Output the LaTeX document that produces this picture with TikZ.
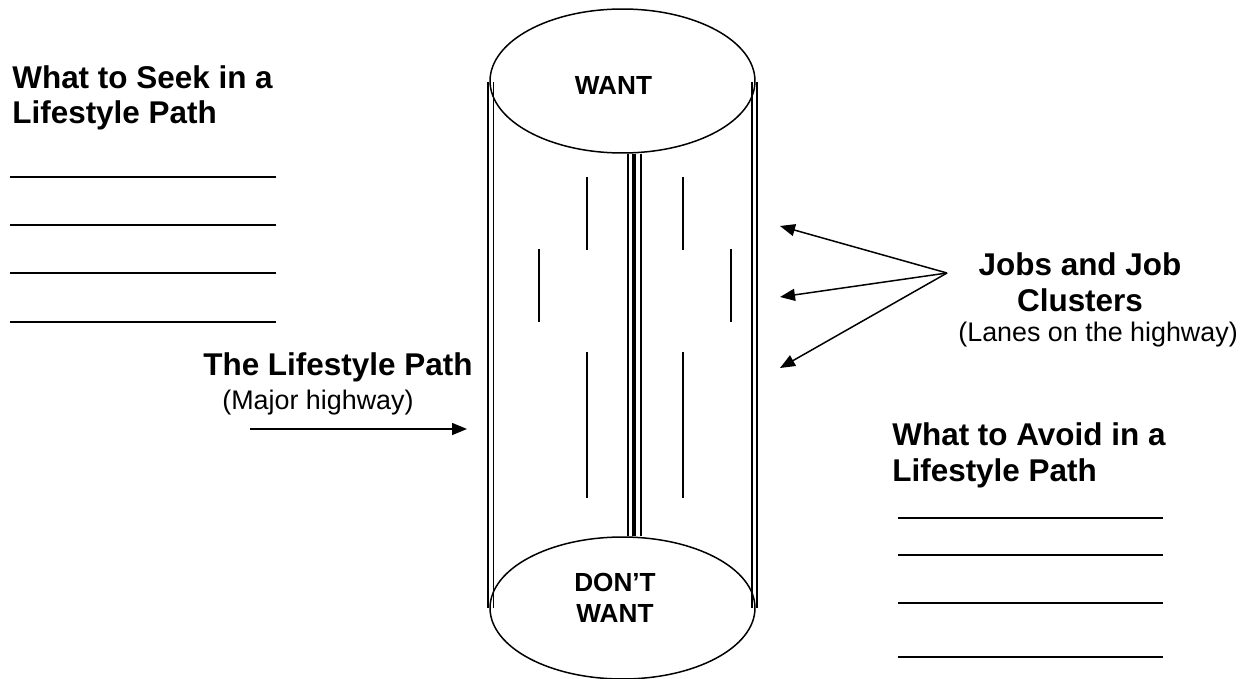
\documentclass[tikz,border=0pt]{standalone}
\usepackage{fontspec}
\setmainfont{Liberation Sans}
\usetikzlibrary{shapes.geometric,calc,arrows.meta,positioning}

\begin{document}
\begin{tikzpicture}[x=0.02cm, y=-0.02cm,
    heading/.style={font=\fontsize{17.9pt}{20.4pt}\selectfont\bfseries, inner sep=0pt, align=left},
    note/.style={font=\fontsize{15.3pt}{18pt}\selectfont, inner sep=0pt},
    tag/.style={font=\fontsize{14.9pt}{17.6pt}\selectfont\bfseries, inner sep=0pt, align=center},
    disc/.style={draw, ellipse, line width=0.85pt, inner sep=0pt, minimum width=5.3cm},
    lanemark/.style={line width=1.1pt},
    blank/.style={line width=0.85pt},
    pointer/.style={line width=0.85pt, -{Triangle[length=3mm, width=2.4mm]}}]
  \useasboundingbox (0,0) rectangle (1254,679);

  \node[disc, minimum height=2.88cm] (want) at (622.5,81) {};
  \node[disc, minimum height=2.84cm] (dontwant) at (622.5,608) {};
  \node[tag] (wantlbl) at ($(want)+(-9,4)$) {WANT};
  \node[tag] (dontlbl) at ($(dontwant)+(-7.5,-10)$) {DON’T\\WANT};

  \draw[line width=1.6pt] (488,82) -- (488,608);
  \draw[line width=1.1pt] (493.5,82) -- (493.5,608);
  \draw[line width=1.1pt] (752,82) -- (752,608);
  \draw[line width=1.6pt] (757,82) -- (757,608);
  \foreach \dx/\w in {5.5/1.1pt, 11.5/2.8pt, 18.5/1.1pt}
    \draw[line width=\w] ($(want.south)+(\dx,0)$) -- ($(dontwant.north)+(\dx,0)$);
  \foreach \x/\a/\b in {587/177/250, 587/352/498, 683/177/250, 683/352/498, 539/249/322, 731/249/322}
    \draw[lanemark] (\x,\a) -- (\x,\b);

  \node[heading, anchor=base west] (seek) at (12,124) {What to Seek in a\\Lifestyle Path};
  \foreach \y in {177,225,273,322}
    \draw[blank] (10,\y) -- (276,\y);

  \node[heading, anchor=base west] (avoid) at (892,481) {What to Avoid in a\\Lifestyle Path};
  \foreach \y in {518,555,603,657}
    \draw[blank] (898,\y) -- (1163,\y);

  \node[heading, anchor=base west] (path) at (203,375) {The Lifestyle Path};
  \node[note, anchor=base west] (major) at (222,409) {(Major highway)};
  \coordinate (pathtail) at (250,429);
  \coordinate (pathtip) at (467,429);
  \draw[pointer] (pathtail) -- (pathtip);

  \node[heading, align=center, anchor=base] (jobs) at (1080,311) {Jobs and Job\\Clusters};
  \node[note, anchor=base west] (lanes) at (958,341) {(Lanes on the highway)};
  \coordinate (fan) at (947,273);
  \foreach \i/\y in {1/226,2/297,3/368} {
    \coordinate (lane\i) at (780,\y);
    \draw[pointer] (fan) -- (lane\i);
  }
\end{tikzpicture}
\end{document}
